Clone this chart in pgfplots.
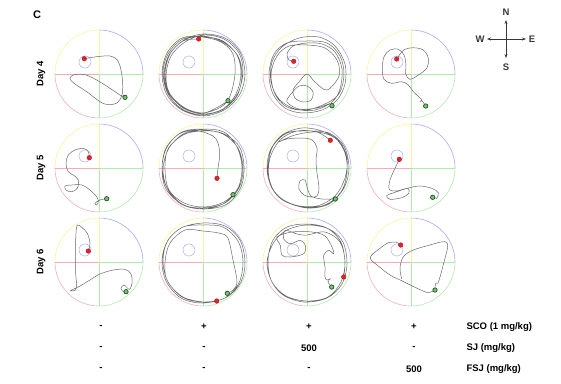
\documentclass[border=0pt]{standalone}
\usepackage{pgfplots}
\pgfplotsset{compat=1.18}
\usepackage{fontspec}
\setmainfont{Liberation Sans}
\usetikzlibrary{arrows.meta}

\definecolor{cy}{RGB}{245,245,160}
\definecolor{cb}{RGB}{170,170,245}
\definecolor{cg}{RGB}{175,235,175}
\definecolor{cr}{RGB}{245,175,180}
\definecolor{cp}{RGB}{185,185,245}
\definecolor{trc}{RGB}{105,105,105}
\definecolor{rdot}{RGB}{225,35,40}
\definecolor{gdot}{RGB}{70,160,70}
\definecolor{gedge}{RGB}{20,90,20}
\definecolor{comp}{RGB}{55,55,55}

\pgfplotsset{
  panel/.style={x=1pt,y=1pt,xmin=-46,xmax=46,ymin=-46,ymax=46,hide axis,clip=false,anchor=center},
  trj/.style={trc, line width=0.5pt, smooth, tension=0.55, no marks},
  rd/.style={only marks, mark=*, mark size=2.3pt, mark options={fill=rdot, draw=rdot!75!black, line width=0.4pt}},
  gd/.style={only marks, mark=*, mark size=2.2pt, mark options={fill=gdot!70!white, draw=gedge, line width=0.7pt}},
}

\newcommand{\arena}{%
  \draw[cy, line width=0.6pt] (axis cs:-44,0) arc[start angle=180,end angle=90,radius=44pt];
  \draw[cb, line width=0.6pt] (axis cs:0,44) arc[start angle=90,end angle=0,radius=44pt];
  \draw[cg, line width=0.6pt] (axis cs:44,0) arc[start angle=0,end angle=-90,radius=44pt];
  \draw[cr, line width=0.6pt] (axis cs:0,-44) arc[start angle=270,end angle=180,radius=44pt];
  \draw[cr, line width=0.6pt] (axis cs:-44,0) -- (axis cs:0,0);
  \draw[cg, line width=0.6pt] (axis cs:0,0) -- (axis cs:44,0);
  \draw[cy, line width=0.6pt] (axis cs:0,0) -- (axis cs:0,44);
  \draw[cg, line width=0.6pt] (axis cs:0,0) -- (axis cs:0,-44);
  \draw[cp, line width=0.6pt] (axis cs:-14,12) circle[radius=6pt];
}
\newcommand{\panel}[3]{%
  \begin{axis}[panel, at={(#1pt,-#2pt)}]
  \arena
  #3
  \end{axis}}

\begin{document}
\begin{tikzpicture}
\path (0pt,0pt) rectangle (561pt,-383pt);

% ---------- Row 1 (Day 4) ----------
\panel{99}{74}{%
\addplot[trj] coordinates {(-14.7,15.3) (-2.3,17.3) (11,18) (18.3,14) (22,4) (23.7,-9.3) (23,-21) (18.3,-28.7) (9.3,-30.7) (1,-27.7) (-12.3,-17.7) (-25,-9.3) (-29,-4.3) (-25,-0.7) (-14,-0.7) (-2.3,-6) (11,-14.3) (21,-21) (26,-23.3)};
\addplot[rd] coordinates {(-14.7,15.3)};
\addplot[gd] coordinates {(26,-23.3)};
}
\panel{203}{74}{%
\addplot[trj] coordinates {(-4.3,35) (-20,33) (-33,20) (-38,0) (-34,-19) (-20,-34) (0,-40) (20,-35) (33,-20) (38,0) (34,19) (20,33) (2,37)
(-20,35) (-35,20) (-40,1) (-35,-20) (-21,-35) (0,-41) (22,-34) (35,-19) (40,2) (36,21) (21,35) (0,39)
(-18,32) (-32,18) (-37,-2) (-33,-21) (-18,-35) (0,-39) (18,-33) (27,-22) (32,0) (30,20) (18,32) (-1,37)
(-21,36) (-36,21) (-41,0) (-36,-21) (-21,-36) (1,-42) (23,-35) (37,-20) (42,0) (37,22) (22,36) (0,40)
(-19,34) (-34,19) (-39,-1) (-34,-20) (-19,-34) (0,-40) (19,-36) (34,-22) (39,-1) (35,18) (20,32) (0,38)
(-19,34) (-33,20) (-38,0) (-33,-20) (-18,-34) (0,-39) (15,-33) (25,-26.7)};
\addplot[rd] coordinates {(-4.3,35)};
\addplot[gd] coordinates {(25,-26.7)};
}
\panel{307}{74}{%
\addplot[trj] coordinates {(-13.3,12.7) (-18,14) (-20,20) (-14,28) (0,31) (15,30) (28,22) (35,5) (33,-15) (25,-28) (8,-36) (-12,-35) (-28,-25) (-36,-8) (-35,12) (-25,27) (-8,36) (12,37) (28,28) (38,10) (38,-10) (30,-26) (15,-36) (-5,-39) (-22,-34) (-34,-20) (-38,0) (-33,20) (-20,31) (0,33) (20,31) (33,18) (37,0) (33,-18) (22,-28) (0,-36) (-20,-33) (-32,-20) (-36,0) (-30,18) (-18,28) (0,29) (18,26) (30,14) (32,-2) (20,-16) (8,-8) (0,0) (-8,-8) (-14,-16) (-12,-24) (-4,-28) (4,-26) (6,-18) (0,-12) (-8,-12) (-16,-20) (-20,-28) (-8,-35) (10,-34) (22,-30) (25,-31.7)};
\addplot[rd] coordinates {(-13.3,12.7)};
\addplot[gd] coordinates {(25,-31.7)};
}
\panel{411}{74}{%
\addplot[trj] coordinates {(-14.3,15) (-10.3,20.7) (-6,24.7) (2.3,26.3) (12.3,24) (17.3,15.7) (15.7,5.7) (7.3,-1) (-1,-5.3) (-5.3,0) (-5,9) (-7,19) (-12.7,24.7) (-21,24) (-27,17.3) (-28.7,5.7) (-27,-5.3) (-19.3,-9.3) (-9.3,-7.7) (-2.7,-11) (2.3,-17.7) (8.3,-23.3) (10.7,-26) (9,-27.5) (11,-27) (14.7,-32)};
\addplot[rd] coordinates {(-14.3,15)};
\addplot[gd] coordinates {(14.7,-32)};
}

% ---------- Row 2 (Day 5) ----------
\panel{99}{168}{%
\addplot[trj] coordinates {(-9.7,10.3) (-10.7,16.3) (-15.7,19.7) (-24,18) (-30.7,13) (-33,4.7) (-30.7,-3.7) (-25.7,-7) (-20.7,-12) (-21.7,-20.3) (-27.3,-23.7) (-33,-22) (-34,-18) (-27.3,-17) (-17.3,-17) (-9,-22) (-2.3,-28.7) (-0.7,-33.7) (-2.3,-37) (-4,-35.3) (1,-32) (7.7,-30.7)};
\addplot[rd] coordinates {(-9.7,10.3)};
\addplot[gd] coordinates {(7.7,-30.7)};
}
\panel{203}{168}{%
\addplot[trj] coordinates {(14,-10.3) (15,0) (16.7,13.3) (15,25) (10,32) (-5,37) (-20,34) (-34,20) (-40,0) (-36,-20) (-22,-36) (0,-40) (22,-35) (36,-20) (40,0) (35,20) (20,34) (0,38) (-22,35) (-37,20) (-41,-1) (-37,-21) (-20,-37) (2,-41) (24,-36) (38,-19) (41,2) (36,22) (19,35) (-2,37) (-20,33) (-35,19) (-38,-2) (-34,-22) (-19,-35) (1,-39) (21,-34) (35,-20) (39,1) (34,21) (21,36) (0,39) (-21,36) (-36,21) (-41,0) (-36,-20) (-21,-36) (0,-41) (20,-36) (30,-26.7)};
\addplot[rd] coordinates {(14,-10.3)};
\addplot[gd] coordinates {(30,-26.7)};
}
\panel{307}{168}{%
\addplot[trj] coordinates {(23.3,27.7) (10,36) (-10,37) (-27,28) (-37,10) (-38,-10) (-30,-27) (-12,-37) (10,-38) (28,-28) (38,-10) (40,10) (32,27) (15,37) (-5,40) (-25,33) (-37,17) (-40,-2) (-35,-20) (-22,-33) (0,-40) (22,-36) (37,-20) (42,0) (37,22) (22,35) (0,37) (-20,35) (-34,22) (-39,3) (-37,-16) (-26,-31) (-5,-39) (18,-37) (34,-24) (40,-5) (38,15) (28,30) (10,36) (-12,33) (-28,26) (-20,29) (-5,30) (5,28) (10,20) (9,8) (10,-5) (12,-20) (10,-28) (4,-29) (-3,-27) (-8,-21) (-7,-13) (-2,-12) (0,-19) (4,-28) (15,-31) (28.3,-31)};
\addplot[rd] coordinates {(23.3,27.7)};
\addplot[gd] coordinates {(28.3,-31)};
}
\panel{411}{168}{%
\addplot[trj] coordinates {(-11.7,8.7) (-16,-0.3) (-21,-12) (-21.7,-21.3) (-14.3,-23) (-3.3,-20.3) (-2.3,-25.3) (-9.3,-29.7) (-21,-31.3) (-24.3,-27.7) (-16,-24.3) (-2.7,-20) (9,-18) (20.7,-20.3) (27.3,-24.7) (25.7,-30.3) (21.7,-29.3)};
\addplot[rd] coordinates {(-11.7,8.7)};
\addplot[gd] coordinates {(21.7,-29.3)};
}

% ---------- Row 3 (Day 6) ----------
\panel{99}{262}{%
\addplot[trj] coordinates {(-10.7,11) (-9,18.7) (-11.7,28.7) (-17.3,34.7) (-21.7,37) (-23,28.7) (-23.7,8.7) (-23.3,-11.3) (-22.3,-25.3) (-25,-28.7) (-28.3,-28.7) (-25.7,-27.3) (-19,-24) (-9,-18) (1,-12) (14.3,-8) (26,-7.3) (32,-12) (33,-21.3) (30.3,-27.3) (25,-23) (22,-26.3) (24.3,-29.7) (27,-29.7)};
\addplot[rd] coordinates {(-10.7,11)};
\addplot[gd] coordinates {(27,-29.7)};
}
\panel{203}{262}{%
\addplot[trj] coordinates {(13.7,-39) (0,-40) (-20,-35) (-35,-20) (-40,0) (-36,20) (-22,34) (0,39) (22,36) (37,22) (42,0) (38,-20) (24,-35) (0,-41) (-22,-36) (-37,-19) (-41,2) (-35,22) (-20,35) (0,37) (20,35) (35,21) (40,1) (36,-21) (22,-36) (0,-40) (-21,-35) (-36,-18) (-38,0) (-33,19) (-18,32) (0,31) (17,28.7) (25,23.7) (30,2) (34,-19.7) (30,-28) (24.3,-31.3)};
\addplot[rd] coordinates {(13.7,-39)};
\addplot[gd] coordinates {(24.3,-31.3)};
}
\panel{307}{262}{%
\addplot[trj] coordinates {(36.7,-15) (38,0) (34,20) (20,34) (0,38) (-20,35) (-34,22) (-39,2) (-36,-18) (-24,-33) (-3,-40) (20,-36) (35,-22) (40,-2) (36,20) (22,33) (0,37) (-20,32) (-33,20) (-40,0) (-35,-20) (-21,-34) (0,-39) (21,-35) (34,-20) (38,0) (33,20) (18,30) (0,27) (-10,28) (-21.7,31.7) (-23.3,23.3) (-16.7,18.3) (-6.7,21.7) (-1.7,16.7) (-3.3,8.3) (-16.7,5) (-25,6.7) (-26.7,16.7) (-30,25) (-15,30) (5,30) (18,26) (25,15) (26.7,8.3) (21.7,11.7) (16.7,6.7) (18,-5) (18,-15) (20,-18) (23,-17) (21,-20) (24.7,-25)};
\addplot[rd] coordinates {(36.7,-15)};
\addplot[gd] coordinates {(24.7,-25)};
}
\panel{411}{262}{%
\addplot[trj] coordinates {(-10.3,17) (-14.3,19.7) (-22.7,19.3) (-31,13.7) (-39.3,7) (-40.3,2.7) (-32.7,-4) (-21,-13) (-9.3,-18.7) (4,-25.3) (15.7,-30.3) (21,-29.5) (24,-28)};
\addplot[trj] coordinates {(-9.3,-17) (-11,-6) (-7.7,5.3) (2.3,12) (19,17) (30,20) (35.7,19.7) (36.5,14) (33,0) (29,-15) (27,-21) (25,-21) (24,-25)};
\addplot[rd] coordinates {(-10.3,17)};
\addplot[gd] coordinates {(24,-28)};
}

% ---------- Labels ----------
\node[font=\fontsize{11}{13}\selectfont\bfseries] at (37pt,-15pt) {C};
\foreach \yy/\dd in {74/4,168/5,262/6}
  \node[rotate=90, font=\fontsize{9.5}{11}\selectfont\bfseries] at (41pt,-\yy pt) {Day \dd};

\begin{scope}[font=\fontsize{9.5}{11}\selectfont\bfseries]
\node at (101pt,-327pt) {-};
\node at (204pt,-327pt) {+};
\node at (309pt,-327pt) {+};
\node at (414pt,-327pt) {+};
\node at (101pt,-348pt) {-};
\node at (204pt,-348pt) {-};
\node at (309pt,-348pt) {500};
\node at (414pt,-348pt) {-};
\node at (101pt,-369pt) {-};
\node at (204pt,-369pt) {-};
\node at (309pt,-369pt) {-};
\node at (414pt,-369pt) {500};
\node[anchor=west] at (463pt,-327pt) {SCO (1 mg/kg)};
\node[anchor=west] at (463pt,-348pt) {SJ (mg/kg)};
\node[anchor=west] at (463pt,-369pt) {FSJ (mg/kg)};
\end{scope}

% ---------- Compass ----------
\draw[comp, line width=0.9pt, {Stealth[length=4pt]}-{Stealth[length=4pt]}] (506pt,-20pt) -- (506pt,-58pt);
\draw[comp, line width=0.9pt, {Stealth[length=4pt]}-{Stealth[length=4pt]}] (487pt,-39pt) -- (526pt,-39pt);
\begin{scope}[font=\fontsize{9.5}{11}\selectfont\bfseries, text=comp]
\node at (506pt,-12pt) {N};
\node at (506pt,-67pt) {S};
\node at (480pt,-39pt) {W};
\node at (532pt,-39pt) {E};
\end{scope}
\end{tikzpicture}
\end{document}
